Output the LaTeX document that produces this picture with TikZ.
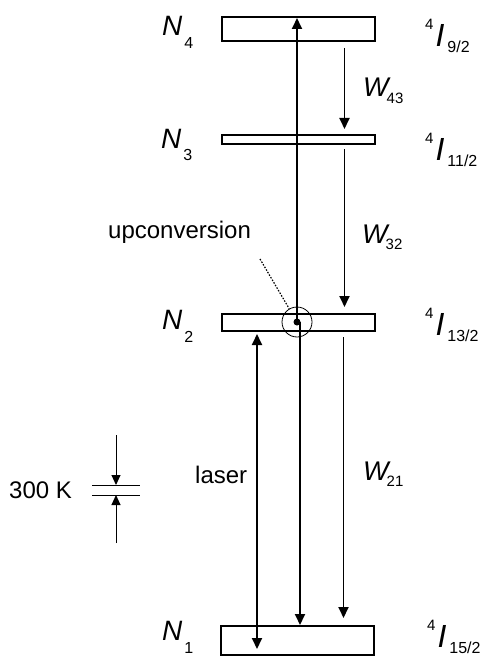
\documentclass[tikz,border=0pt]{standalone}
\usepackage{fontspec}
\setmainfont{Liberation Sans}
\usetikzlibrary{arrows.meta,positioning,calc}

\newcommand{\popN}[1]{{\fontsize{28}{28}\selectfont\itshape N}\kern2pt\raisebox{-13pt}{\fontsize{16}{16}\selectfont #1}}
\newcommand{\rateW}[1]{{\fontsize{27}{27}\selectfont\itshape W}\kern-2pt\raisebox{-6pt}{\fontsize{15}{15}\selectfont #1}}
\newcommand{\termI}[1]{\raisebox{17pt}{\fontsize{15}{15}\selectfont 4}\kern2pt{\fontsize{32}{32}\selectfont\itshape I}\kern3pt\raisebox{-6pt}{\fontsize{16}{16}\selectfont #1}}

\begin{document}
\begin{tikzpicture}[
		x=1pt, y=-1pt,
		level/.style={draw, line width=2pt, minimum width=153pt, inner sep=0pt},
		lab/.style={inner sep=0pt, anchor=base west},
		txt/.style={lab, font=\fontsize{24}{24}\selectfont},
		arr/.style={-{Triangle[length=11pt,width=10pt]}, line width=1.8pt},
		karr/.style={-{Triangle[length=10pt,width=9pt]}, line width=1pt}]

	\useasboundingbox (0,0) rectangle (488,658);

	% Levels
	\node[level, minimum height=24pt] (N4) at (298.5,29) {};
	\node[level, minimum height=9pt]  (N3) at (298.5,139.5) {};
	\node[level, minimum height=17pt] (N2) at (298.5,322.5) {};
	\node[level, minimum height=29pt] (N1) at (297.5,640.5) {};

	% Populations
	\node[lab] (n4lab) at (162,36)  {\popN{4}};
	\node[lab] (n3lab) at (161,148) {\popN{3}};
	\node[lab] (n2lab) at (162,329) {\popN{2}};
	\node[lab] (n1lab) at (162,640) {\popN{1}};

	% Terms
	\node[lab] (t4) at (425,47)  {\termI{9/2}};
	\node[lab] (t3) at (425,160) {\termI{11/2}};
	\node[lab] (t2) at (425,335) {\termI{13/2}};
	\node[lab] (t1) at (427,647) {\termI{15/2}};

	% Upconversion
	\node[circle, fill, inner sep=0pt, minimum size=7pt] (dot) at (297,322) {};
	\node[circle, draw, line width=0.8pt, minimum size=30pt] (ring) at (dot) {};
	\node[txt] (upc) at (108,238) {upconversion};
	\coordinate (uptail) at (260,259);
	\draw[line width=1.2pt, dash pattern=on 1.5pt off 1.5pt] (uptail) -- (ring);
	\draw[arr] (dot.center) -- ($(dot |- N4.north)+(0,2)$);
	\draw[arr] ($(dot)+(3,0)$) -- ($(dot |- N1.north)+(3,0)$);

	% Decays
	\draw[arr] ($(N4.south)+(46,6)$) -- ($(N3.north)+(46,-5)$);
	\draw[arr] ($(N3.south)+(46,4)$) -- ($(N2.north)+(46,-6)$);
	\draw[arr] ($(N2.south)+(45,5)$) -- ($(N1.north)+(46,-7)$);
	\node[lab] (w43) at (363,97)  {\rateW{43}};
	\node[lab] (w32) at (362,243) {\rateW{32}};
	\node[lab] (w21) at (363,480) {\rateW{21}};

	% Laser
	\draw[arr, {Triangle[length=11pt,width=10pt]}-{Triangle[length=11pt,width=10pt]}]
		($(N2.south)+(-41.5,2)$) -- ($(N1.south)+(-40.5,-7)$);
	\node[txt] (laser) at (195,483) {laser};

	% 300 K
	\node[txt] (k300) at (9,498) {300 K};
	\coordinate (kTop) at (116,485);
	\coordinate (kBot) at (116,495);
	\draw[line width=1pt] ($(kTop)+(-24,0)$) -- ($(kTop)+(24,0)$);
	\draw[line width=1pt] ($(kBot)+(-24,0)$) -- ($(kBot)+(24,0)$);
	\draw[karr] ($(kTop)+(0,-50)$) -- (kTop);
	\draw[karr] ($(kBot)+(0,48)$) -- (kBot);

\end{tikzpicture}
\end{document}
